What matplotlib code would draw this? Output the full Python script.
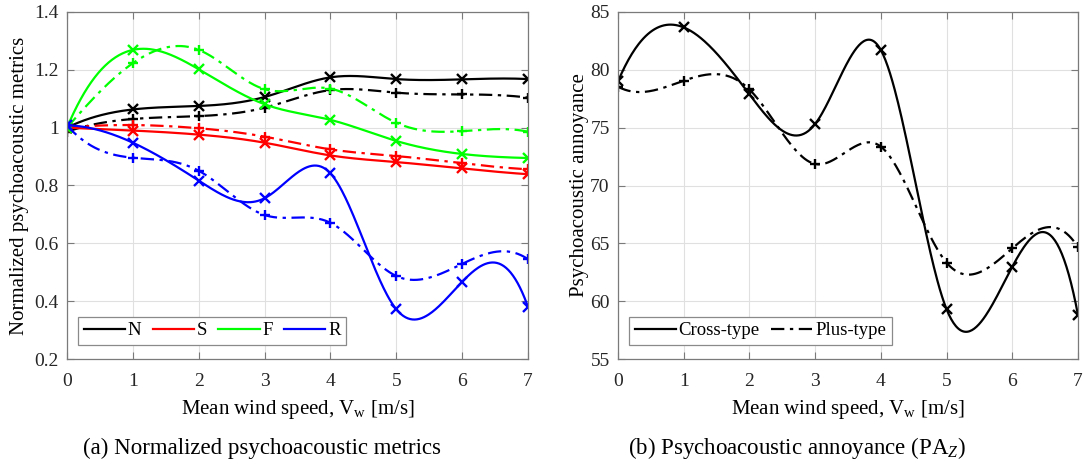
import numpy as np
import matplotlib
matplotlib.use("Agg")
import matplotlib.pyplot as plt

plt.rcParams['font.family'] = ['Liberation Serif', 'DejaVu Serif']
plt.rcParams['mathtext.fontset'] = 'custom'
plt.rcParams['mathtext.rm'] = 'Liberation Serif'
plt.rcParams['mathtext.it'] = 'Liberation Serif:italic'

# ---------------- data ----------------
wind_speed = [0, 1, 2, 3, 4, 5, 6, 7]

N_cross = [1.00, 1.063, 1.075, 1.106, 1.174, 1.168, 1.167, 1.168]
N_plus = [0.986, 1.030, 1.040, 1.069, 1.130, 1.121, 1.115, 1.104]
S_cross = [1.00, 0.990, 0.976, 0.948, 0.904, 0.881, 0.859, 0.839]
S_plus = [1.00, 1.009, 0.998, 0.969, 0.925, 0.902, 0.877, 0.856]
F_cross = [1.00, 1.269, 1.202, 1.081, 1.027, 0.954, 0.909, 0.895]
F_plus = [1.00, 1.223, 1.269, 1.133, 1.135, 1.017, 0.988, 0.986]
R_cross = [1.008, 0.948, 0.817, 0.756, 0.842, 0.372, 0.467, 0.380]
R_plus = [1.008, 0.896, 0.851, 0.698, 0.671, 0.487, 0.529, 0.545]

PA_cross = [79.0, 83.67, 77.88, 75.32, 81.71, 59.3, 62.98, 58.8]
PA_plus = [78.54, 79.06, 78.3, 71.86, 73.36, 63.33, 64.57, 64.66]

metric_names = ['N', 'S', 'F', 'R']
metric_colors = ['black', 'red', '#00ff00', 'blue']
type_names = ['Cross-type', 'Plus-type']

left_yticks = [0.2, 0.4, 0.6, 0.8, 1.0, 1.2, 1.4]
left_yticklabels = ['0.2', '0.4', '0.6', '0.8', '1', '1.2', '1.4']
right_yticks = [55, 60, 65, 70, 75, 80, 85]


def spline_notaknot(x, y, xq):
    x = np.asarray(x, float)
    y = np.asarray(y, float)
    n = len(x)
    h = np.diff(x)
    A = np.zeros((n, n))
    b = np.zeros(n)
    A[0, 0] = -1 / h[0]
    A[0, 1] = 1 / h[0] + 1 / h[1]
    A[0, 2] = -1 / h[1]
    for i in range(1, n - 1):
        A[i, i - 1] = h[i - 1]
        A[i, i] = 2 * (h[i - 1] + h[i])
        A[i, i + 1] = h[i]
        b[i] = 6 * ((y[i + 1] - y[i]) / h[i] - (y[i] - y[i - 1]) / h[i - 1])
    A[-1, -3] = -1 / h[-2]
    A[-1, -2] = 1 / h[-2] + 1 / h[-1]
    A[-1, -1] = -1 / h[-1]
    M = np.linalg.solve(A, b)
    xq = np.asarray(xq, float)
    idx = np.clip(np.searchsorted(x, xq) - 1, 0, n - 2)
    x0, x1 = x[idx], x[idx + 1]
    hh = x1 - x0
    t0 = x1 - xq
    t1 = xq - x0
    yq = (M[idx] * t0 ** 3 / (6 * hh) + M[idx + 1] * t1 ** 3 / (6 * hh)
          + (y[idx] / hh - M[idx] * hh / 6) * t0
          + (y[idx + 1] / hh - M[idx + 1] * hh / 6) * t1)
    return yq


dashdot = (0, (6, 2.5, 1.5, 2.5))
LW = 1.6
MS = 6.5
MEW = 1.7
FS_TICK = 14
FS_LABEL = 15
FS_LEG = 13.5
FS_CAP = 16.5

fig = plt.figure(figsize=(10.88, 4.72), dpi=100)
ax1 = fig.add_axes([67 / 1088, 1 - 359 / 472, 461 / 1088, 347 / 472])
ax2 = fig.add_axes([618 / 1088, 1 - 359 / 472, 460 / 1088, 347 / 472])

xs = np.linspace(0, 7, 400)


def style_axes(ax):
    ax.grid(True, color='#e0e0e0', linewidth=0.8)
    ax.set_axisbelow(True)
    for s in ax.spines.values():
        s.set_color('#7a7a7a')
        s.set_linewidth(0.9)
    ax.tick_params(direction='in', top=True, right=True, length=5,
                   color='#7a7a7a', labelsize=FS_TICK, labelcolor='#262626')
    ax.tick_params(axis='x', pad=10)
    ax.tick_params(axis='y', pad=6)
    ax.set_xlim(0, 7)
    ax.set_xticks(wind_speed)


series = [(N_cross, N_plus), (S_cross, S_plus), (F_cross, F_plus), (R_cross, R_plus)]
handles = []
for name, col, (yc, yp) in zip(metric_names, metric_colors, series):
    h, = ax1.plot(xs, spline_notaknot(wind_speed, yc, xs), color=col, lw=LW,
                  linestyle='-', label=name)
    ax1.plot(xs, spline_notaknot(wind_speed, yp, xs), color=col, lw=LW,
             linestyle=dashdot)
    ax1.plot(wind_speed, yc, linestyle='none', marker='x', color=col, ms=MS, mew=MEW)
    ax1.plot(wind_speed, yp, linestyle='none', marker='+', color=col, ms=MS + 1, mew=MEW)
    handles.append(h)

style_axes(ax1)
ax1.set_ylim(0.2, 1.4)
ax1.set_yticks(left_yticks)
ax1.set_yticklabels(left_yticklabels)
ax1.set_xlabel(r'Mean wind speed, V$_\mathrm{w}$ [m/s]', fontsize=FS_LABEL, labelpad=6)
ax1.set_ylabel('Normalized psychoacoustic metrics', fontsize=FS_LABEL, labelpad=4)
leg1 = ax1.legend(handles=handles, loc='lower left', bbox_to_anchor=(0.024, 0.04),
                  borderaxespad=0, ncol=4, fontsize=FS_LEG, handlelength=2.2,
                  handletextpad=0.15, columnspacing=0.6, fancybox=False,
                  framealpha=1, edgecolor='#8a8a8a', borderpad=0.3)
leg1.get_frame().set_linewidth(0.9)

hc, = ax2.plot(xs, spline_notaknot(wind_speed, PA_cross, xs), color='black', lw=LW,
               linestyle='-', label=type_names[0])
hp, = ax2.plot(xs, spline_notaknot(wind_speed, PA_plus, xs), color='black', lw=LW,
               linestyle=dashdot, label=type_names[1])
ax2.plot(wind_speed, PA_cross, linestyle='none', marker='x', color='black', ms=MS, mew=MEW)
ax2.plot(wind_speed, PA_plus, linestyle='none', marker='+', color='black', ms=MS + 1, mew=MEW)
style_axes(ax2)
ax2.set_ylim(55, 85)
ax2.set_yticks(right_yticks)
ax2.set_xlabel(r'Mean wind speed, V$_\mathrm{w}$ [m/s]', fontsize=FS_LABEL, labelpad=6)
ax2.set_ylabel('Psychoacoustic annoyance', fontsize=FS_LABEL, labelpad=1)
leg2 = ax2.legend(handles=[hc, hp], loc='lower left', bbox_to_anchor=(0.024, 0.04),
                  borderaxespad=0, ncol=2, fontsize=FS_LEG, handlelength=2.2,
                  handletextpad=0.15, columnspacing=0.6, fancybox=False,
                  framealpha=1, edgecolor='#8a8a8a', borderpad=0.3)
leg2.get_frame().set_linewidth(0.9)

fig.text(262 / 1088, 1 - 448 / 472, '(a) Normalized psychoacoustic metrics',
         ha='center', va='center', fontsize=FS_CAP)
fig.text(797 / 1088, 1 - 448 / 472, r'(b) Psychoacoustic annoyance (PA$_{Z}$)',
         ha='center', va='center', fontsize=FS_CAP)

fig.savefig('out.png', dpi=100)
